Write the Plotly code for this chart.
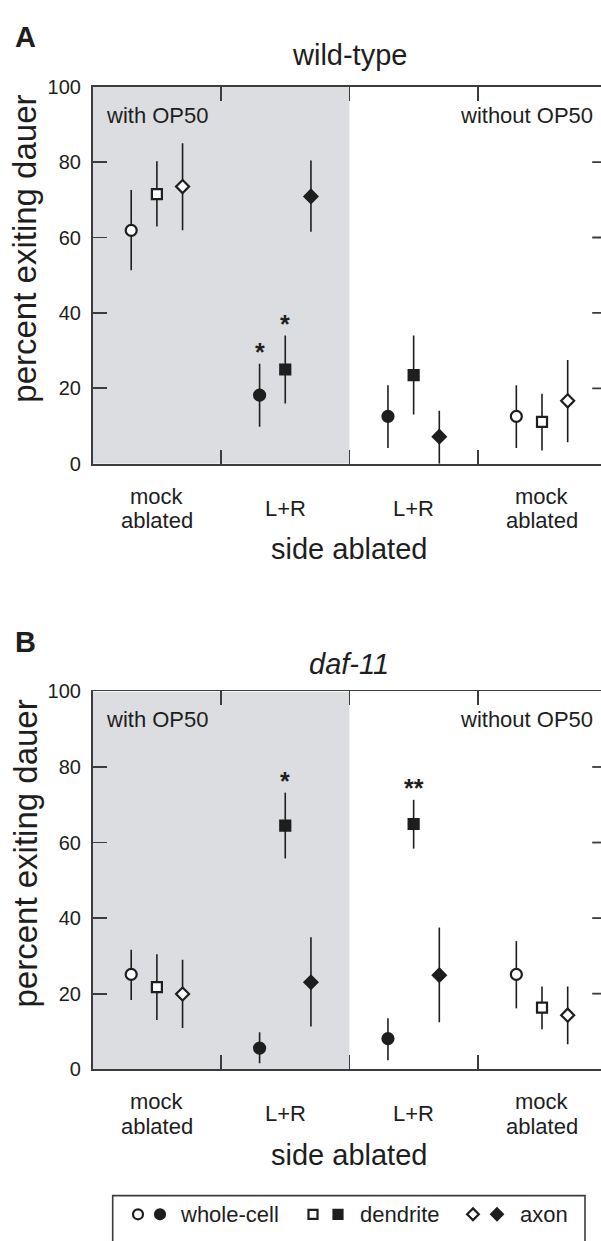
import plotly.graph_objects as go

# ---------------- data ----------------
categories = ["mock|ablated", "L+R", "L+R", "mock|ablated"]   # with OP50 (0,1) / without OP50 (2,3)
series_names = ["whole-cell", "dendrite", "axon"]

# Panel A: wild-type
wt_whole_mean = [61.9, 18.2, 12.6, 12.6]
wt_whole_lo   = [51.3, 9.8, 4.2, 4.2]
wt_whole_hi   = [72.6, 26.5, 20.8, 20.8]
wt_dend_mean  = [71.5, 25.0, 23.5, 11.1]
wt_dend_lo    = [62.9, 16.0, 13.1, 3.5]
wt_dend_hi    = [80.2, 34.0, 34.0, 18.6]
wt_axon_mean  = [73.5, 70.9, 7.2, 16.7]
wt_axon_lo    = [61.9, 61.5, 0.0, 5.7]
wt_axon_hi    = [85.0, 80.4, 14.1, 27.5]

# Panel B: daf-11
daf_whole_mean = [25.1, 5.6, 8.1, 25.1]
daf_whole_lo   = [18.3, 1.6, 2.4, 16.1]
daf_whole_hi   = [31.6, 9.8, 13.5, 33.9]
daf_dend_mean  = [21.7, 64.5, 64.9, 16.3]
daf_dend_lo    = [13.0, 55.8, 58.4, 10.6]
daf_dend_hi    = [30.4, 73.2, 71.3, 21.9]
daf_axon_mean  = [19.9, 23.0, 24.9, 14.3]
daf_axon_lo    = [10.9, 11.3, 12.4, 6.6]
daf_axon_hi    = [29.0, 34.9, 37.5, 21.9]

# significance marks: (category index, series index, label)
wt_sig  = [(1, 0, "*"), (1, 1, "*")]
daf_sig = [(1, 1, "*"), (2, 1, "**")]

y_ticks = [0, 20, 40, 60, 80, 100]

# ---------------- layout geometry ----------------
W, H = 601, 1241
LEFT_PX, RIGHT_PX = 92.7, 606.2
CAT_W = (RIGHT_PX - LEFT_PX) / 4
X_MAX = 3.5 - (RIGHT_PX - W) / CAT_W
panels = [
    dict(top=77.0, bot=461.0, title="wild-type", italic=False, letter="A", lettery=26,
         titley=45, data=[(wt_whole_mean, wt_whole_lo, wt_whole_hi),
                          (wt_dend_mean, wt_dend_lo, wt_dend_hi),
                          (wt_axon_mean, wt_axon_lo, wt_axon_hi)], sig=wt_sig),
    dict(top=692.7, bot=1077.3, title="daf-11", italic=True, letter="B", lettery=642,
         titley=665, data=[(daf_whole_mean, daf_whole_lo, daf_whole_hi),
                           (daf_dend_mean, daf_dend_lo, daf_dend_hi),
                           (daf_axon_mean, daf_axon_lo, daf_axon_hi)], sig=daf_sig),
]

FONT = "Liberation Sans, Arial, Helvetica, sans-serif"
INK = "#1e1e1e"
AXC = "#3c3c3c"
SHADE = "#dcdde0"
symbols = ["circle", "square", "diamond"]
sizes = [11, 10, 10]
offsets = [-0.2, 0.0, 0.2]
fill_for_cat = ["white", INK, INK, "white"]


def px(x):
    return x / W


def py(y):
    return 1 - y / H


fig = go.Figure()
annotations = []
shapes = []

for pi, p in enumerate(panels):
    xa = "x" if pi == 0 else "x2"
    ya = "y" if pi == 0 else "y2"
    for si, (m, lo, hi) in enumerate(p["data"]):
        fig.add_trace(go.Scatter(
            x=[c + offsets[si] for c in range(len(m))], y=m,
            mode="markers", xaxis=xa, yaxis=ya, showlegend=False,
            error_y=dict(type="data", symmetric=False,
                         array=[h - v for h, v in zip(hi, m)],
                         arrayminus=[v - l for v, l in zip(m, lo)],
                         thickness=1.6, width=0, color=INK),
            marker=dict(symbol=symbols[si], size=sizes[si], color=fill_for_cat,
                        line=dict(color=INK, width=2.2)),
            cliponaxis=False,
        ))
    # significance asterisks
    for (ci, si, lab) in p["sig"]:
        annotations.append(dict(x=ci + offsets[si], y=p["data"][si][2][ci],
                                xref=xa, yref=ya, text="<b>%s</b>" % lab, showarrow=False,
                                font=dict(family=FONT, size=25, color=INK),
                                yanchor="bottom", yshift=-4))
    # shaded region with OP50
    shapes.append(dict(type="rect", xref=xa, yref=ya, x0=-0.5, x1=1.5, y0=0, y1=100,
                       fillcolor=SHADE, line=dict(width=0), layer="below"))
    # right-side inward ticks
    for t in y_ticks[1:-1]:
        shapes.append(dict(type="line", xref=xa, yref=ya, x0=3.5 - 14 / CAT_W, x1=3.5,
                           y0=t, y1=t, line=dict(color=AXC, width=1.8)))
    top, bot = p["top"], p["bot"]
    # letters & titles
    annotations.append(dict(x=px(25), y=py(p["lettery"]), xref="paper", yref="paper",
                            text="<b>%s</b>" % p["letter"], showarrow=False,
                            font=dict(family=FONT, size=29, color=INK),
                            xanchor="center", yanchor="middle"))
    ttl = "<i>%s</i>" % p["title"] if p["italic"] else p["title"]
    annotations.append(dict(x=px(349), y=py(p["titley"]), xref="paper", yref="paper",
                            text=ttl, showarrow=False,
                            font=dict(family=FONT, size=29, color=INK),
                            xanchor="center", yanchor="middle"))
    annotations.append(dict(x=px(104), y=py(top + 29), xref="paper", yref="paper",
                            text="with OP50", showarrow=False,
                            font=dict(family=FONT, size=22, color=INK),
                            xanchor="left", yanchor="middle"))
    annotations.append(dict(x=px(595), y=py(top + 29), xref="paper", yref="paper",
                            text="without OP50", showarrow=False,
                            font=dict(family=FONT, size=22, color=INK),
                            xanchor="right", yanchor="middle"))
    # category labels
    for ci, cat in enumerate(categories):
        parts = cat.split("|")
        if len(parts) == 2:
            for li, (txt, dy) in enumerate(zip(parts, [33, 58])):
                annotations.append(dict(x=ci, y=py(bot + dy), xref=xa, yref="paper",
                                        text=txt, showarrow=False,
                                        font=dict(family=FONT, size=22, color=INK),
                                        xanchor="center", yanchor="middle"))
        else:
            annotations.append(dict(x=ci, y=py(bot + 45), xref=xa, yref="paper",
                                    text=cat, showarrow=False,
                                    font=dict(family=FONT, size=22, color=INK),
                                    xanchor="center", yanchor="middle"))
    annotations.append(dict(x=px(349), y=py(bot + 87), xref="paper", yref="paper",
                            text="side ablated", showarrow=False,
                            font=dict(family=FONT, size=29, color=INK),
                            xanchor="center", yanchor="middle"))
    annotations.append(dict(x=px(25), y=py(top + 165), xref="paper", yref="paper",
                            text="percent exiting dauer", showarrow=False, textangle=-90,
                            font=dict(family=FONT, size=33, color=INK),
                            xanchor="center", yanchor="middle"))

axis_common_x = dict(range=[-0.5, X_MAX], domain=[px(LEFT_PX), 1],
                     tickvals=[0.5, 1.5, 2.5], ticktext=["", "", ""],
                     ticks="inside", ticklen=14, tickwidth=1.8, tickcolor=AXC,
                     showline=True, linecolor=AXC, linewidth=1.8, mirror="ticks",
                     showgrid=False, zeroline=False, fixedrange=True)
axis_common_y = dict(range=[0, 100], tickvals=y_ticks,
                     ticks="inside", ticklen=14, tickwidth=1.8, tickcolor=AXC,
                     showline=True, linecolor=AXC, linewidth=1.8, mirror=False,
                     showgrid=False, zeroline=False, fixedrange=True,
                     tickfont=dict(family=FONT, size=20, color=INK),
                     ticklabelstandoff=6)

fig.update_layout(
    xaxis=dict(axis_common_x, anchor="y"),
    yaxis=dict(axis_common_y, anchor="x",
               domain=[py(panels[0]["bot"]), py(panels[0]["top"])]),
    xaxis2=dict(axis_common_x, anchor="y2"),
    yaxis2=dict(axis_common_y, anchor="x2",
                domain=[py(panels[1]["bot"]), py(panels[1]["top"])]),
    xaxis3=dict(domain=[0, 1], range=[0, W], visible=False, anchor="y3", fixedrange=True),
    yaxis3=dict(domain=[0, py(1206)], range=[0, H - 1206], visible=False, anchor="x3",
                fixedrange=True),
)

# ---------------- legend (custom box) ----------------
legend_marker_x = [(138, 160), (313, 338), (473, 497)]
legend_text_x = [178, 358, 518]
leg_y = H - 1225
for si in range(3):
    fig.add_trace(go.Scatter(
        x=list(legend_marker_x[si]), y=[leg_y, leg_y], mode="markers",
        xaxis="x3", yaxis="y3", showlegend=False, hoverinfo="skip",
        marker=dict(symbol=symbols[si], size=sizes[si] - 1, color=["white", INK],
                    line=dict(color=INK, width=2.2)),
        cliponaxis=False))
    annotations.append(dict(x=legend_text_x[si], y=leg_y, xref="x3", yref="y3",
                            text=series_names[si], showarrow=False,
                            font=dict(family=FONT, size=22, color=INK),
                            xanchor="left", yanchor="middle"))
shapes.append(dict(type="rect", xref="paper", yref="paper",
                   x0=px(112.7), x1=px(585), y0=-0.05, y1=py(1206),
                   line=dict(color=AXC, width=1.6), fillcolor="rgba(0,0,0,0)"))

fig.update_layout(
    width=W, height=H, autosize=False,
    margin=dict(l=0, r=0, t=0, b=0, pad=0),
    paper_bgcolor="white", plot_bgcolor="rgba(0,0,0,0)",
    showlegend=False, annotations=annotations, shapes=shapes,
    font=dict(family=FONT, color=INK), hovermode=False,
)

fig.write_html(
    "out.html",
    config={"displayModeBar": False, "staticPlot": True},
    post_script="document.body.style.margin='0';document.body.style.overflow='hidden';",
)
